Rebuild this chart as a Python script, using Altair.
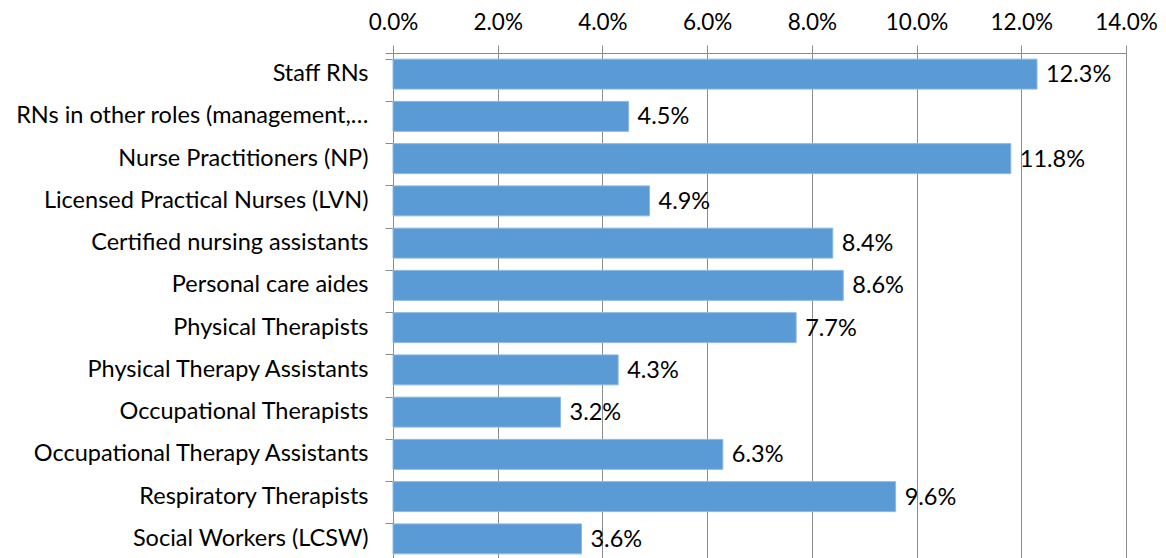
import altair as alt
import pandas as pd

categories = [
    "Staff RNs",
    "RNs in other roles (management,\u2026",
    "Nurse Practitioners (NP)",
    "Licensed Practical Nurses (LVN)",
    "Certified nursing assistants",
    "Personal care aides",
    "Physical Therapists",
    "Physical Therapy Assistants",
    "Occupational Therapists",
    "Occupational Therapy Assistants",
    "Respiratory Therapists",
    "Social Workers (LCSW)",
]
values = [0.123, 0.045, 0.118, 0.049, 0.084, 0.086, 0.077, 0.043, 0.032, 0.063, 0.096, 0.036]
x_ticks = [0.0, 0.02, 0.04, 0.06, 0.08, 0.10, 0.12, 0.14]

df = pd.DataFrame({"cat": categories, "val": values})

FONT = "Lato"
FS = 23.5
GRID = "#8c8c8c"

y = alt.Y("cat:N", sort=categories, title=None,
          scale=alt.Scale(paddingInner=0.29, paddingOuter=0.145),
          axis=alt.Axis(bandPosition=0, tickExtra=True, tickSize=8, tickColor=GRID,
                        domainColor=GRID, labelFontSize=FS, labelFont=FONT,
                        labelColor="#000000", labelPadding=17, labelLimit=400, grid=False))

x = alt.X("val:Q", title=None,
          scale=alt.Scale(domain=[0, 0.14], nice=False),
          axis=alt.Axis(orient="top", values=x_ticks, format=".1%", tickSize=8,
                        tickColor=GRID, domainColor=GRID, gridColor=GRID, grid=True,
                        gridOpacity=1, labelFontSize=22.5, labelFont=FONT, labelFlush=False,
                        labelColor="#000000", labelPadding=11))

bars = alt.Chart(df).mark_bar(color="#5B9BD5", stroke="#8DB8E3", strokeWidth=1).encode(x=x, y=y)
text = alt.Chart(df).mark_text(align="left", baseline="middle", dx=9, dy=1, fontSize=FS,
                               font=FONT, color="#000000").encode(
    x=alt.X("val:Q"), y=alt.Y("cat:N", sort=categories),
    text=alt.Text("val:Q", format=".1%"))

chart = (bars + text).properties(
    width=733, height=507,
    autosize=alt.AutoSizeParams(type="none"),
    padding={"left": 385, "top": 45, "right": 32, "bottom": 0},
).configure_view(stroke=None).configure(background="white")

chart.save("out.html", embed_options={"renderer": "svg", "actions": False})
